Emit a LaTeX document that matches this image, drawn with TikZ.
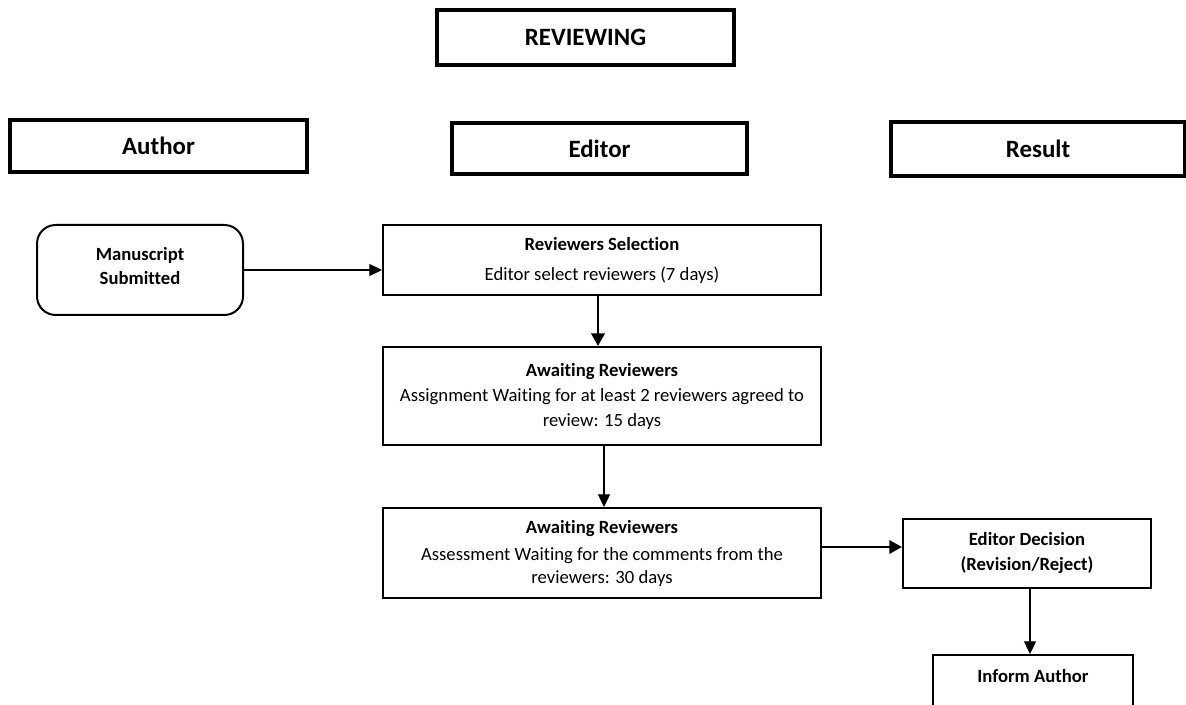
\documentclass[tikz,border=0pt]{standalone}
\usepackage{fontspec}
\setmainfont{Carlito}[RawFeature={-liga}]
\usetikzlibrary{arrows.meta}
\newcommand\pxu{0.75pt}
\tikzset{
  header/.style={draw, line width=2.8pt, font=\fontsize{18.7}{22}\selectfont\bfseries,
    inner sep=0pt, fill=white},
  flowbox/.style={draw, line width=1.5pt, align=center, inner sep=0pt,
    font=\fontsize{14}{18.75}\selectfont},
  roundbox/.style={flowbox, rounded corners=14pt},
  thinarrow/.style={line width=0.95pt, -{Triangle[length=9.5pt,width=9pt]}},
  thickarrow/.style={line width=1.9pt, -{Triangle[length=9.5pt,width=10pt]}},
}
\begin{document}
\begin{tikzpicture}[x=\pxu, y=-\pxu]
\useasboundingbox (0,0) rectangle (1186,705);
\clip (0,0) rectangle (1186,705);

% column headers
\node[header, minimum width=297*\pxu, minimum height=55*\pxu] (title) at (585.5,37.5) {REVIEWING};
\node[header, minimum width=297*\pxu, minimum height=52*\pxu] (author) at (158.5,146) {Author};
\node[header, minimum width=295*\pxu, minimum height=51*\pxu] (editor) at (599.5,148.5) {Editor};
\node[header, minimum width=294*\pxu, minimum height=54*\pxu] (result) at (1038,149) {Result};

% process steps
\node[roundbox, minimum width=206*\pxu, minimum height=90*\pxu] (ms) at (140,270)
  {\textbf{Manuscript}\\[-0.75pt]\textbf{Submitted}\\[-13pt]};
\node[flowbox, minimum width=438*\pxu, minimum height=70*\pxu] (rs) at (602,260)
  {\textbf{Reviewers Selection}\\[3.75pt]Editor select reviewers (7 days)};
\node[flowbox, minimum width=438*\pxu, minimum height=98*\pxu] (aw1) at (602,396)
  {\textbf{Awaiting Reviewers}\\Assignment Waiting for at least 2 reviewers agreed to\\review: 15 days};
\node[flowbox, minimum width=438*\pxu, minimum height=90*\pxu] (aw2) at (602,553)
  {\textbf{Awaiting Reviewers}\\[1.5pt]Assessment Waiting for the comments from the\\[-1.5pt]reviewers: 30 days};
\node[flowbox, minimum width=248*\pxu, minimum height=69*\pxu] (dec) at (1027,553.5)
  {\textbf{Editor Decision}\\\textbf{(Revision/Reject)}};
\node[flowbox, minimum width=200*\pxu, minimum height=86*\pxu, anchor=north] (inf) at (1033,654)
  {};
\node[font=\fontsize{14}{17}\selectfont\bfseries] (inftext) at (1033,676) {Inform Author};

% connectors
\draw[thinarrow] (ms.east) -- (ms.east -| rs.west);
\draw[thickarrow] ([xshift=-4*\pxu]rs.south) -- ([xshift=-4*\pxu]rs.south |- aw1.north);
\draw[thinarrow] ([xshift=2*\pxu]aw1.south) -- ([xshift=2*\pxu]aw1.south |- aw2.north);
\draw[thickarrow] ([yshift=6*\pxu]aw2.east) -- ([yshift=6*\pxu]aw2.east -| dec.west);
\draw[thinarrow] ([xshift=3*\pxu]dec.south) -- ([xshift=3*\pxu]dec.south |- inf.north);
\end{tikzpicture}
\end{document}
